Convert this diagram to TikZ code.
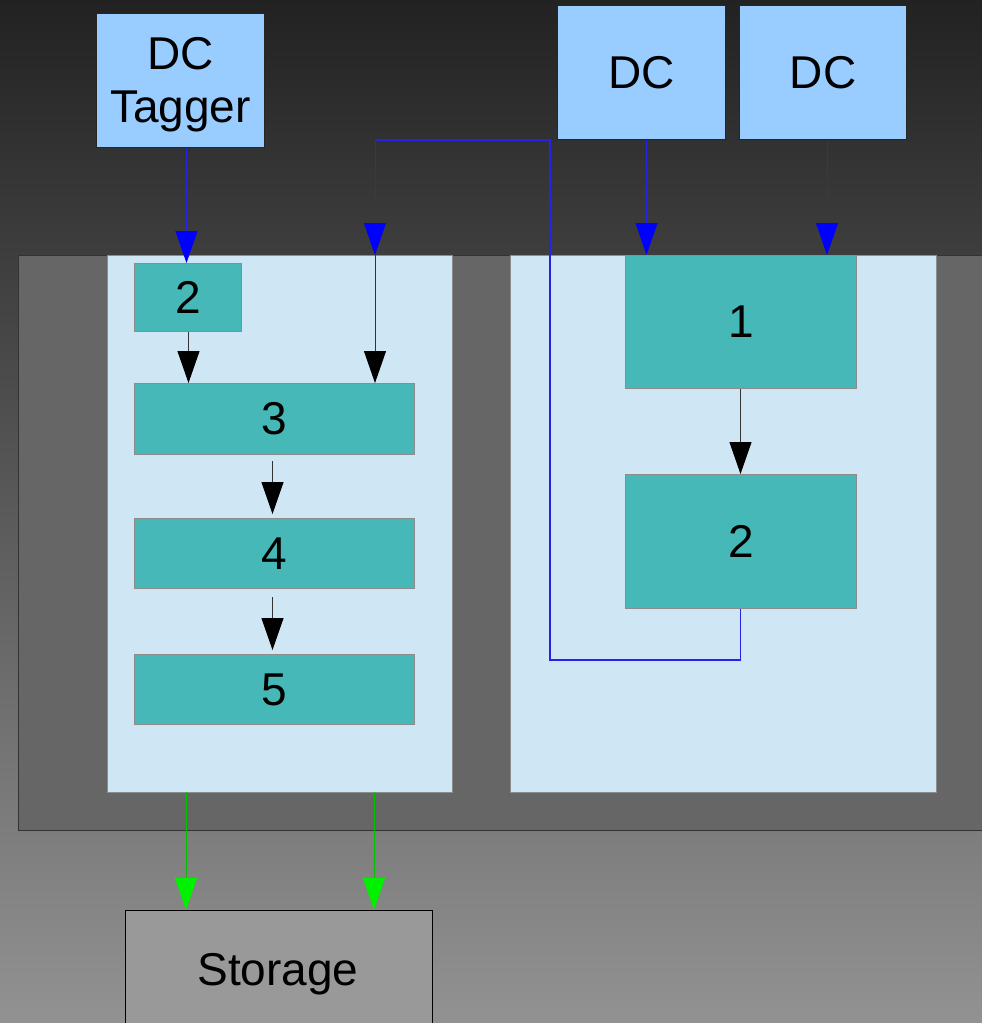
\documentclass[tikz,border=0pt]{standalone}
\usepackage{fontspec}
\setmainfont{Liberation Sans}
\usetikzlibrary{arrows.meta,calc}
\definecolor{dcblue}{HTML}{99CCFF}
\definecolor{tealbox}{HTML}{46B8B8}
\definecolor{panelc}{HTML}{CFE6F4}
\definecolor{framec}{HTML}{666666}
\definecolor{storc}{HTML}{999999}
\definecolor{lineblue}{HTML}{2424E6}
\definecolor{arrblue}{HTML}{0000FF}
\definecolor{arrgreen}{HTML}{00F000}
\tikzset{
  bigfont/.style={font=\fontsize{46}{53}\selectfont},
  dcbox/.style={draw=black!85, fill=dcblue, line width=1pt, anchor=north west, inner sep=0pt, align=center, bigfont},
  tbox/.style={draw=black!45, fill=tealbox, line width=1pt, anchor=north west, inner sep=0pt, bigfont},
  panelbox/.style={draw=black!45, fill=panelc, line width=1pt, anchor=north west, inner sep=0pt},
  framebox/.style={draw=black!80, fill=framec, line width=1pt, anchor=north west, inner sep=0pt},
  storbox/.style={draw=black, fill=storc, line width=1pt, anchor=north west, inner sep=0pt, bigfont},
  bluearr/.style={draw=lineblue, line width=1pt, -{Triangle[length=32pt,width=22pt,color=arrblue]}},
  blueline/.style={draw=lineblue, line width=1.2pt},
  blackarr/.style={draw=black!80, line width=1pt, -{Triangle[length=32pt,width=22pt,color=black]}},
  greenarr/.style={draw=arrgreen!80!black, line width=1pt, -{Triangle[length=32pt,width=22pt,color=arrgreen]}},
}
\begin{document}
\begin{tikzpicture}[x=1pt,y=-1pt]
\clip (0,0) rectangle (982,1023);
\useasboundingbox (0,0) rectangle (982,1023);
\shade[top color={rgb,255:red,34;green,34;blue,34}, bottom color={rgb,255:red,146;green,146;blue,146}] (0,0) rectangle (982,1023);

% frame and panels
\node[framebox, minimum width=990pt, minimum height=575pt] (frame) at (18,255) {};
\node[panelbox, minimum width=345pt, minimum height=537pt] (lp) at (107,255) {};
\node[panelbox, minimum width=426pt, minimum height=537pt] (rp) at (510,255) {};

% top boxes
\node[dcbox, minimum width=168pt, minimum height=134pt] (tagger) at (96,13) {};
\node[bigfont, align=center] (taggertext) at ($(tagger.center)+(0,4)$) {DC\\Tagger};
\node[dcbox, minimum width=168pt, minimum height=134pt] (dca) at (557,5) {DC};
\node[dcbox, minimum width=167pt, minimum height=134pt] (dcb) at (739,5) {DC};

% storage
\node[storbox, minimum width=307pt, minimum height=130pt] (stor) at (125,910) {};
\node[bigfont, anchor=base] (stortext) at (278,985) {Storage};

% feedback path coordinates
\coordinate (fbA) at (740.5,660);
\coordinate (fbB) at (550,660);
\coordinate (fbC) at (550,140);
\coordinate (fbD) at (375,140);
\coordinate (fbE) at (375,255);

% teal boxes
\node[tbox, minimum width=107pt, minimum height=68pt] (l2) at (134,263) {2};
\node[tbox, minimum width=280pt, minimum height=71pt] (l3) at (134,383) {3};
\node[tbox, minimum width=280pt, minimum height=70pt] (l4) at (134,518) {4};
\node[tbox, minimum width=280pt, minimum height=70pt] (l5) at (134,654) {5};
\node[tbox, minimum width=231pt, minimum height=133pt] (r1) at (625,255) {1};
\node[tbox, minimum width=231pt, minimum height=134pt] (r2) at (625,474) {2};

% feedback line
\draw[blueline] (r2.south -| fbA) -- (fbA) -- (fbB) -- (fbC) -- (fbD);
\draw[bluearr] (fbD) -- (fbE);
\draw[blackarr] (fbE) -- (fbE |- l3.north);

% blue arrows from DC boxes
\draw[bluearr] ([xshift=6pt]tagger.south) -- ([xshift=6pt]tagger.south |- l2.north);
\draw[bluearr] ([xshift=5pt]dca.south) -- ([xshift=5pt]dca.south |- r1.north);
\draw[bluearr] ([xshift=4pt]dcb.south) -- ([xshift=4pt]dcb.south |- r1.north);

% black arrows
\draw[blackarr] (r1.south -| fbA) -- (r2.north -| fbA);
\draw[blackarr] ([xshift=0.5pt]l2.south) -- ([xshift=0.5pt]l2.south |- l3.north);
\draw[blackarr, shorten <=6pt, shorten >=4pt] ([xshift=-2pt]l3.south) -- ([xshift=-2pt]l4.north);
\draw[blackarr, shorten <=8pt, shorten >=4pt] ([xshift=-2pt]l4.south) -- ([xshift=-2pt]l5.north);

% green arrows
\coordinate (g1) at (186,792);
\coordinate (g2) at (374,792);
\draw[greenarr] (g1) -- (g1 |- stor.north);
\draw[greenarr] (g2) -- (g2 |- stor.north);
\end{tikzpicture}
\end{document}
